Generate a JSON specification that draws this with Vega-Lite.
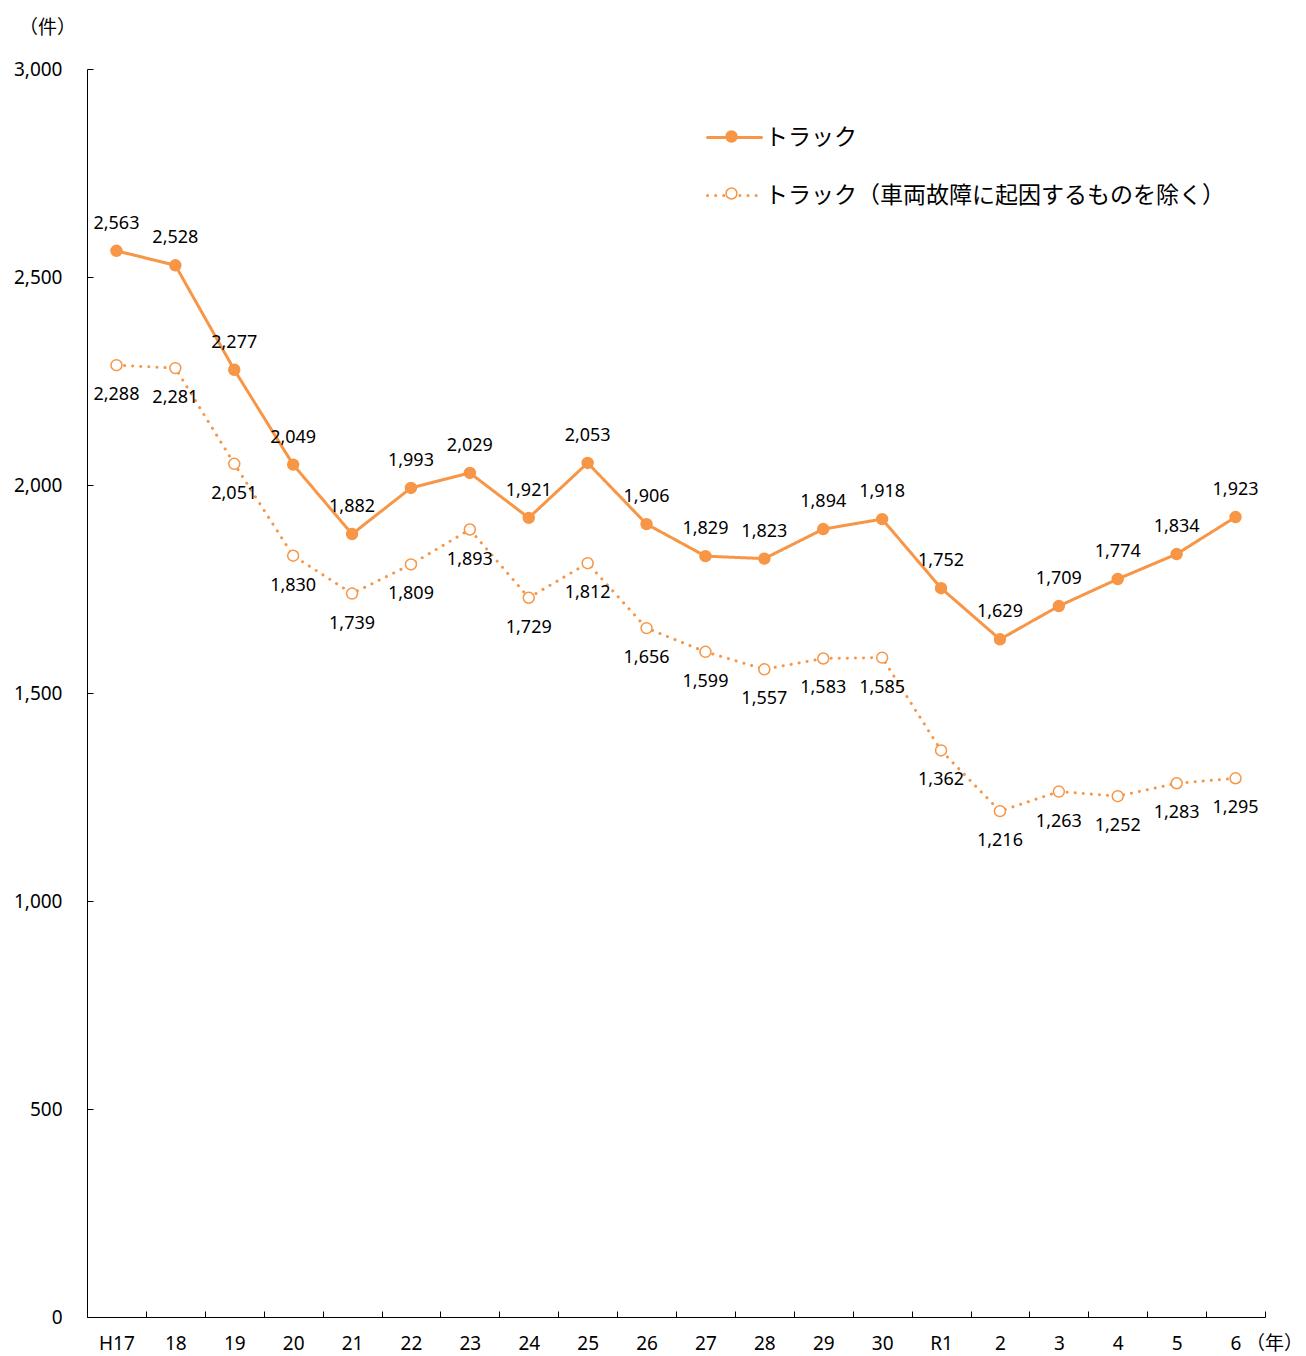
{
  "$schema": "https://vega.github.io/schema/vega-lite/v6.json",
  "width": 1178,
  "height": 1248,
  "autosize": "none",
  "padding": {"left": 87, "top": 69, "right": 41, "bottom": 39},
  "background": "white",
  "config": {
    "view": {"stroke": null},
    "font": "Noto Sans",
    "axis": {"domainColor": "#000000", "tickColor": "#000000", "labelColor": "#000000", "titleColor": "#000000", "grid": false, "labelFont": "Noto Sans", "labelFontSize": 19, "titleFont": "Noto Sans CJK JP", "titleFontSize": 19, "titleFontWeight": "normal"}
  },
  "data": {"values": [
    {"year": "H17", "series": "トラック", "count": 2563},
    {"year": "H17", "series": "トラック（車両故障に起因するものを除く）", "count": 2288},
    {"year": "18", "series": "トラック", "count": 2528},
    {"year": "18", "series": "トラック（車両故障に起因するものを除く）", "count": 2281},
    {"year": "19", "series": "トラック", "count": 2277},
    {"year": "19", "series": "トラック（車両故障に起因するものを除く）", "count": 2051},
    {"year": "20", "series": "トラック", "count": 2049},
    {"year": "20", "series": "トラック（車両故障に起因するものを除く）", "count": 1830},
    {"year": "21", "series": "トラック", "count": 1882},
    {"year": "21", "series": "トラック（車両故障に起因するものを除く）", "count": 1739},
    {"year": "22", "series": "トラック", "count": 1993},
    {"year": "22", "series": "トラック（車両故障に起因するものを除く）", "count": 1809},
    {"year": "23", "series": "トラック", "count": 2029},
    {"year": "23", "series": "トラック（車両故障に起因するものを除く）", "count": 1893},
    {"year": "24", "series": "トラック", "count": 1921},
    {"year": "24", "series": "トラック（車両故障に起因するものを除く）", "count": 1729},
    {"year": "25", "series": "トラック", "count": 2053},
    {"year": "25", "series": "トラック（車両故障に起因するものを除く）", "count": 1812},
    {"year": "26", "series": "トラック", "count": 1906},
    {"year": "26", "series": "トラック（車両故障に起因するものを除く）", "count": 1656},
    {"year": "27", "series": "トラック", "count": 1829},
    {"year": "27", "series": "トラック（車両故障に起因するものを除く）", "count": 1599},
    {"year": "28", "series": "トラック", "count": 1823},
    {"year": "28", "series": "トラック（車両故障に起因するものを除く）", "count": 1557},
    {"year": "29", "series": "トラック", "count": 1894},
    {"year": "29", "series": "トラック（車両故障に起因するものを除く）", "count": 1583},
    {"year": "30", "series": "トラック", "count": 1918},
    {"year": "30", "series": "トラック（車両故障に起因するものを除く）", "count": 1585},
    {"year": "R1", "series": "トラック", "count": 1752},
    {"year": "R1", "series": "トラック（車両故障に起因するものを除く）", "count": 1362},
    {"year": "2", "series": "トラック", "count": 1629},
    {"year": "2", "series": "トラック（車両故障に起因するものを除く）", "count": 1216},
    {"year": "3", "series": "トラック", "count": 1709},
    {"year": "3", "series": "トラック（車両故障に起因するものを除く）", "count": 1263},
    {"year": "4", "series": "トラック", "count": 1774},
    {"year": "4", "series": "トラック（車両故障に起因するものを除く）", "count": 1252},
    {"year": "5", "series": "トラック", "count": 1834},
    {"year": "5", "series": "トラック（車両故障に起因するものを除く）", "count": 1283},
    {"year": "6", "series": "トラック", "count": 1923},
    {"year": "6", "series": "トラック（車両故障に起因するものを除く）", "count": 1295}
  ]},
  "encoding": {
    "x": {
      "field": "year", "type": "ordinal", "sort": null,
      "scale": {"type": "band", "paddingInner": 0, "paddingOuter": 0},
      "axis": {"title": "（年）", "labelAngle": 0, "tickBand": "extent", "tickSize": -6, "labelPadding": 23, "titleX": 1187, "titleY": 26, "titleAlign": "center", "titleBaseline": "middle", "titleAngle": 0}
    },
    "y": {
      "field": "count", "type": "quantitative",
      "scale": {"domain": [0, 3000]},
      "axis": {"title": "（件）", "values": [0, 500, 1000, 1500, 2000, 2500, 3000], "format": ",d", "tickSize": -6, "labelPadding": 31, "titleAngle": 0, "titleX": -40, "titleY": -42, "titleAlign": "center", "titleBaseline": "middle"}
    }
  },
  "layer": [
    {
      "mark": {"type": "line", "color": "#F79646", "strokeWidth": 3, "strokeCap": "round"},
      "encoding": {
        "strokeDash": {
          "field": "series", "type": "nominal",
          "scale": {"domain": ["トラック", "トラック（車両故障に起因するものを除く）"], "range": [[1, 0], [0.1, 8]]},
          "legend": {"title": null, "orient": "none", "legendX": 619, "legendY": 40, "symbolType": "stroke", "symbolSize": 2916, "symbolStrokeWidth": 3, "symbolStrokeColor": "#F79646", "labelFont": "Noto Sans CJK JP", "labelFontSize": 23, "labelColor": "#000000", "labelOffset": 2, "labelLimit": 0, "rowPadding": 17,
            "encode": {"symbols": {"update": {"strokeCap": {"value": "round"}}}}}
        }
      }
    },
    {
      "mark": {"type": "point", "shape": "circle", "size": 120, "stroke": "#F79646", "strokeWidth": 1.5, "filled": false, "opacity": 1},
      "encoding": {
        "fill": {
          "field": "series", "type": "nominal",
          "scale": {"range": ["#F79646", "#FFFFFF"]},
          "legend": {"title": null, "orient": "none", "legendX": 638, "legendY": 61, "symbolType": "circle", "symbolSize": 120, "symbolStrokeColor": "#F79646", "symbolStrokeWidth": 1.5, "symbolOpacity": 1, "labelExpr": "''", "labelFontSize": 4, "labelLimit": 0, "rowPadding": 40}
        }
      }
    },
    {
      "transform": [{"filter": "datum.series == 'トラック'"}],
      "mark": {"type": "text", "dy": -27, "fontSize": 18, "color": "#000000", "font": "Noto Sans"},
      "encoding": {"text": {"field": "count", "type": "quantitative", "format": ",d"}}
    },
    {
      "transform": [{"filter": "datum.series != 'トラック'"}],
      "mark": {"type": "text", "dy": 30, "fontSize": 18, "color": "#000000", "font": "Noto Sans"},
      "encoding": {"text": {"field": "count", "type": "quantitative", "format": ",d"}}
    }
  ],
  "resolve": {"legend": {"strokeDash": "independent", "fill": "independent"}}
}
